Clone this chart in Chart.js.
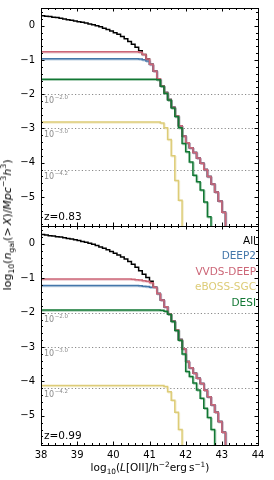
<!DOCTYPE html>
<html>
<head>
<meta charset="utf-8">
<script src="https://cdn.jsdelivr.net/npm/chart.js@4.4.1/dist/chart.umd.min.js"></script>
<style>
  html, body { margin: 0; padding: 0; background: #fff; }
  body { width: 274px; height: 480px; position: relative; overflow: hidden; font-family: "DejaVu Sans", sans-serif; }
  canvas { position: absolute; left: 0; }
  #topChart { top: 0; }
  #botChart { top: 220px; }
  .lab { position: absolute; white-space: nowrap; color: #000; line-height: 12px; }
  .lab sub, .lab sup { font-size: 0.7em; line-height: 0; }
  #ylab { font-size: 11px; left: 8px; top: 225px; transform: translate(-50%, -50%) rotate(-90deg); }
  #xlab { font-size: 10.5px; left: 150px; top: 467px; transform: translate(-50%, -50%); }
</style>
</head>
<body>
<canvas id="topChart" width="274" height="227"></canvas>
<canvas id="botChart" width="274" height="260"></canvas>
<div class="lab" id="ylab">log<sub>10</sub>(<i>n</i><sub>gal</sub>(&gt;&thinsp;<i>X</i>)/<i>Mpc</i><sup>−3</sup><i>h</i><sup>3</sup>)</div>
<div class="lab" id="xlab">log<sub>10</sub>(<i>L</i>[OII]/h<sup>−2</sup>erg&thinsp;s<sup>−1</sup>)</div>
<script>
// Axes
const xTicks = [38, 39, 40, 41, 42, 43, 44];
const yTicks = [0, -1, -2, -3, -4, -5];
const refLevels = [-2.0, -3.0, -4.2];
const refLabels = ['−2.0', '−3.0', '−4.2'];
const seriesNames = ['All', 'DEEP2', 'VVDS-DEEP', 'eBOSS-SGC', 'DESI'];
const seriesColors = ['#000000', '#4477AA', '#CC6677', '#DDCC77', '#117733'];
const OFF = -8; // no galaxies left (falls below the axis)

// z = 0.83 : [log10 L, log10 n(>L)]
const allTop = [[38.0,0.29],[38.1,0.28],[38.2,0.27],[38.3,0.25],[38.4,0.24],[38.5,0.22],[38.6,0.20],
  [38.7,0.18],[38.8,0.16],[38.9,0.14],[39.0,0.12],[39.1,0.10],[39.2,0.08],[39.3,0.05],[39.4,0.03],
  [39.5,0.0],[39.6,-0.03],[39.7,-0.07],[39.8,-0.11],[39.9,-0.15],[40.0,-0.20],[40.1,-0.25],
  [40.2,-0.31],[40.3,-0.38],[40.4,-0.46],[40.5,-0.54],[40.6,-0.63],[40.7,-0.73],[40.8,-0.84]];
const deep2Top = [[38.0,-0.96],[40.7,-0.97],[40.8,-0.99],[40.9,-1.03],[41.0,-1.13]];
const vvdsTop = [[38.0,-0.76],[40.7,-0.77],[40.8,-0.84],[40.9,-0.97],[41.0,-1.12],[41.1,-1.32],
  [41.2,-1.55],[41.3,-1.75],[41.4,-1.95],[41.5,-2.15],[41.6,-2.38],[41.7,-2.63],[41.8,-2.92],
  [41.9,-3.22],[42.0,-3.42],[42.1,-3.56],[42.2,-3.70],[42.3,-3.86],[42.4,-4.02],[42.5,-4.20],
  [42.6,-4.40],[42.7,-4.62],[42.8,-4.86],[42.9,-5.12],[43.0,-5.45],[43.1,OFF]];
const ebossTop = [[38.0,-2.81],[41.3,-2.84],[41.4,-2.98],[41.5,-3.32],[41.6,-3.80],[41.7,-4.52],
  [41.8,-5.10],[41.9,OFF]];
const desiTop = [[38.0,-1.56],[41.2,-1.58],[41.3,-1.77],[41.4,-1.97],[41.5,-2.17],[41.6,-2.40],
  [41.7,-2.65],[41.8,-2.98],[41.9,-3.44],[42.0,-3.68],[42.1,-3.98],[42.2,-4.37],[42.3,-4.56],
  [42.4,-4.80],[42.5,-5.15],[42.6,-5.58],[42.7,OFF]];

// z = 0.99
const allBot = [[38.0,0.27],[38.1,0.26],[38.2,0.24],[38.3,0.23],[38.4,0.21],[38.5,0.20],[38.6,0.18],
  [38.7,0.16],[38.8,0.14],[38.9,0.12],[39.0,0.10],[39.1,0.07],[39.2,0.05],[39.3,0.02],[39.4,-0.01],
  [39.5,-0.05],[39.6,-0.09],[39.7,-0.13],[39.8,-0.17],[39.9,-0.22],[40.0,-0.27],[40.1,-0.32],
  [40.2,-0.38],[40.3,-0.44],[40.4,-0.51],[40.5,-0.59],[40.6,-0.68],[40.7,-0.78],[40.8,-0.88],
  [40.9,-0.98],[41.0,-1.09]];
const deep2Bot = [[38.0,-1.21],[40.7,-1.22],[40.8,-1.23],[40.9,-1.24],[41.0,-1.26]];
const vvdsBot = [[38.0,-1.02],[40.5,-1.03],[40.6,-1.04],[40.7,-1.05],[40.8,-1.07],[40.9,-1.09],
  [41.0,-1.13],[41.1,-1.26],[41.2,-1.44],[41.3,-1.63],[41.4,-1.83],[41.5,-2.03],[41.6,-2.24],
  [41.7,-2.50],[41.8,-2.78],[41.9,-3.05],[42.0,-3.42],[42.1,-3.60],[42.2,-3.76],[42.3,-3.91],
  [42.4,-4.06],[42.5,-4.26],[42.6,-4.45],[42.7,-4.68],[42.8,-4.90],[42.9,-5.17],[43.0,-5.48],[43.1,OFF]];
const ebossBot = [[38.0,-4.12],[41.4,-4.15],[41.5,-4.30],[41.6,-4.55],[41.7,-4.90],[41.8,-5.40],[41.9,OFF]];
const desiBot = [[38.0,-1.92],[41.3,-1.93],[41.4,-1.96],[41.5,-2.05],[41.6,-2.26],[41.7,-2.52],
  [41.8,-2.80],[41.9,-3.20],[42.0,-3.71],[42.1,-3.86],[42.2,-4.05],[42.3,-4.25],[42.4,-4.49],
  [42.5,-4.78],[42.6,-5.05],[42.7,-5.40],[42.8,OFF]];

// continue a curve along the VVDS tail once it merges with it
function withTail(head, tail) {
  const last = head[head.length - 1][0];
  return head.concat(tail.filter(p => p[0] > last + 1e-6));
}

const FONT = '"DejaVu Sans", sans-serif';

const panelPlugin = {
  id: 'panel',
  beforeDatasetsDraw(chart) {
    const {ctx, chartArea: a, scales: {y}} = chart;
    ctx.save();
    refLevels.forEach((lv, i) => {
      const py = Math.round(y.getPixelForValue(lv)) + 0.5;
      ctx.strokeStyle = '#8a8a8a';
      ctx.lineWidth = 1.2;
      ctx.setLineDash([1.2, 2.2]);
      ctx.beginPath();
      ctx.moveTo(a.left, py);
      ctx.lineTo(a.right, py);
      ctx.stroke();
      ctx.fillStyle = '#8a8a8a';
      ctx.textBaseline = 'alphabetic';
      ctx.textAlign = 'left';
      ctx.font = '8px ' + FONT;
      ctx.fillText('10', a.left + 3, py + 8);
      const w = ctx.measureText('10').width;
      ctx.font = '5.5px ' + FONT;
      ctx.fillText(refLabels[i], a.left + 3 + w + 0.5, py + 4.5);
    });
    ctx.restore();
  },
  beforeDatasetDraw(chart, args) {
    const ds = chart.data.datasets[args.index];
    chart.ctx.save();
    if (ds.shadow) {
      chart.ctx.shadowColor = ds.shadow;
      chart.ctx.shadowOffsetX = 1;
      chart.ctx.shadowOffsetY = 1;
      chart.ctx.shadowBlur = 0;
    }
  },
  afterDatasetDraw(chart) {
    chart.ctx.restore();
  },
  afterDatasetsDraw(chart, args, opts) {
    const {ctx, chartArea: a, scales: {x, y}} = chart;
    ctx.save();
    ctx.strokeStyle = '#000';
    ctx.lineWidth = 1;
    ctx.beginPath();
    // x ticks, top and bottom, pointing in
    for (let i = 0; i <= 30; i++) {
      const v = 38 + i * 0.2;
      const px = Math.round(x.getPixelForValue(v)) + 0.5;
      const len = (i % 5 === 0) ? 3.5 : 2;
      ctx.moveTo(px, a.top); ctx.lineTo(px, a.top + len);
      ctx.moveTo(px, a.bottom); ctx.lineTo(px, a.bottom - len);
    }
    // y ticks, left and right
    for (let i = 0; i <= 32; i++) {
      const v = 0.4 - i * 0.2;
      if (v < y.min || v > y.max) continue;
      const py = Math.round(y.getPixelForValue(v)) + 0.5;
      const major = Math.abs(v - Math.round(v)) < 1e-6;
      const len = major ? 3.5 : 2;
      ctx.moveTo(a.left, py); ctx.lineTo(a.left + len, py);
      ctx.moveTo(a.right, py); ctx.lineTo(a.right - len, py);
    }
    ctx.stroke();
    ctx.strokeRect(Math.round(a.left) + 0.5, Math.round(a.top) + 0.5,
      Math.round(a.right - a.left), Math.round(a.bottom - a.top));

    ctx.font = '10.5px ' + FONT;
    ctx.fillStyle = '#000';
    ctx.textAlign = 'left';
    ctx.textBaseline = 'alphabetic';
    ctx.fillText(opts.zLabel, a.left + 3, a.bottom - 6);

    if (opts.legend) {
      ctx.textAlign = 'right';
      ctx.textBaseline = 'middle';
      seriesNames.forEach((name, i) => {
        ctx.fillStyle = seriesColors[i];
        ctx.fillText(name, a.right - 2, a.top + 15 + i * 15.5);
      });
    }
    ctx.restore();
  }
};

function hexAlpha(hex, al) {
  const n = parseInt(hex.slice(1), 16);
  return `rgba(${(n >> 16) & 255},${(n >> 8) & 255},${n & 255},${al})`;
}

function makePanel(id, curves, zLabel, bottom) {
  // curves in name order: All, DEEP2, VVDS-DEEP, eBOSS-SGC, DESI
  const datasets = curves.map((pts, i) => ({
    label: seriesNames[i],
    data: pts.map(p => ({x: p[0], y: p[1]})),
    borderColor: seriesColors[i],
    borderWidth: 1.5,
    stepped: 'before',
    pointRadius: 0,
    fill: false,
    clip: 0,
    shadow: i === 0 ? null : hexAlpha(seriesColors[i], 0.35),
    order: 4 - i
  }));
  return new Chart(document.getElementById(id), {
    type: 'line',
    data: {datasets},
    options: {
      responsive: false,
      animation: false,
      layout: {padding: {left: 0, right: 16, top: bottom ? 6 : 8, bottom: bottom ? 0 : 1}},
      plugins: {
        legend: {display: false},
        tooltip: {enabled: false},
        panel: {zLabel, legend: bottom}
      },
      scales: {
        x: {
          type: 'linear', min: 38, max: 44,
          grid: {display: false, drawTicks: false},
          border: {display: false},
          ticks: {display: bottom, color: '#000', font: {family: FONT, size: 10}, padding: 4,
            maxRotation: 0, callback: v => String(v)},
          afterBuildTicks: s => { s.ticks = xTicks.map(v => ({value: v})); },
          afterFit: s => { s.height = bottom ? 35 : 0; s.paddingLeft = 0; s.paddingRight = 0; }
        },
        y: {
          type: 'linear', min: -5.85, max: 0.52,
          grid: {display: false, drawTicks: false},
          border: {display: false},
          ticks: {color: '#000', font: {family: FONT, size: 10}, padding: 6,
            callback: v => v < 0 ? '−' + Math.abs(v) : String(v)},
          afterBuildTicks: s => { s.ticks = yTicks.map(v => ({value: v})); },
          afterFit: s => { s.width = 41; s.paddingTop = 0; s.paddingBottom = 0; }
        }
      }
    },
    plugins: [panelPlugin]
  });
}

makePanel('topChart', [
  withTail(allTop, vvdsTop), withTail(deep2Top, vvdsTop), vvdsTop, ebossTop, desiTop
], 'z=0.83', false);

makePanel('botChart', [
  withTail(allBot, vvdsBot), withTail(deep2Bot, vvdsBot), vvdsBot, ebossBot, desiBot
], 'z=0.99', true);
</script>
</body>
</html>
